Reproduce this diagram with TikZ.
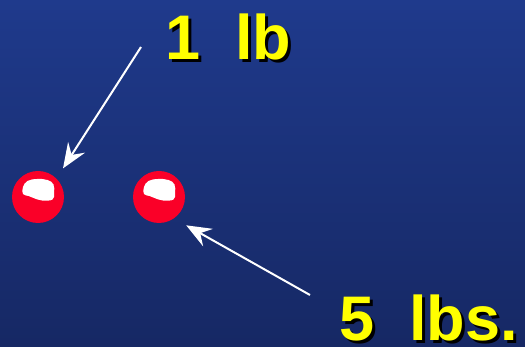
\documentclass[tikz,border=0pt]{standalone}
\usepackage{fontspec}
\setmainfont{Liberation Sans}
\usetikzlibrary{arrows.meta,calc}
\definecolor{bgtop}{RGB}{31,58,140}
\definecolor{bgbottom}{RGB}{22,40,100}
\definecolor{ballred}{RGB}{250,0,40}
\definecolor{labelyellow}{RGB}{255,255,0}

\begin{document}
\begin{tikzpicture}[
  x=1pt, y=-1pt,
  weight/.style={font=\fontsize{63}{70}\selectfont\bfseries, inner sep=0pt, text depth=0pt, anchor=base west},
  shade/.style={weight, text=black},
  label/.style={weight, text=labelyellow},
  ball/.style={circle, fill=ballred, minimum size=52pt, inner sep=0pt},
  pointer/.style={-{Stealth[length=25pt, width=20pt, inset=9pt]}, white, line width=2pt}
]
% background
\shade[top color=bgtop, bottom color=bgbottom] (0,0) rectangle (525,347);
\useasboundingbox (0,0) rectangle (525,347);

% the two balls
\node[ball] (light) at (38,197) {};
\node[ball] (heavy) at (159,197) {};
\foreach \b in {light,heavy}
  \fill[white] plot[smooth cycle, tension=0.7] coordinates {
    ($(\b)+(-15,-10)$) ($(\b)+(-10.5,-16)$) ($(\b)+(-1,-18)$) ($(\b)+(9.5,-17)$)
    ($(\b)+(15.5,-12.5)$) ($(\b)+(16,-4)$) ($(\b)+(14.5,2.5)$) ($(\b)+(4,3.5)$)
    ($(\b)+(-4.5,1)$) ($(\b)+(-9.5,-1)$) ($(\b)+(-15,-3)$)};

% labels with drop shadow
\node[shade] at (168,63) {1\ \ lb};
\node[label] (one) at (165,60) {1\ \ lb};
\node[shade] at (342,344) {5\ \ lbs.};
\node[label] (five) at (339,341) {5\ \ lbs.};

% arrows
\coordinate (onetail) at (141,47);
\coordinate (fivetail) at (310,295);
\draw[pointer, shorten >=12pt] (onetail) -- (light.45);
\draw[pointer, shorten >=14pt] (fivetail) -- (heavy.-55);
\end{tikzpicture}
\end{document}
